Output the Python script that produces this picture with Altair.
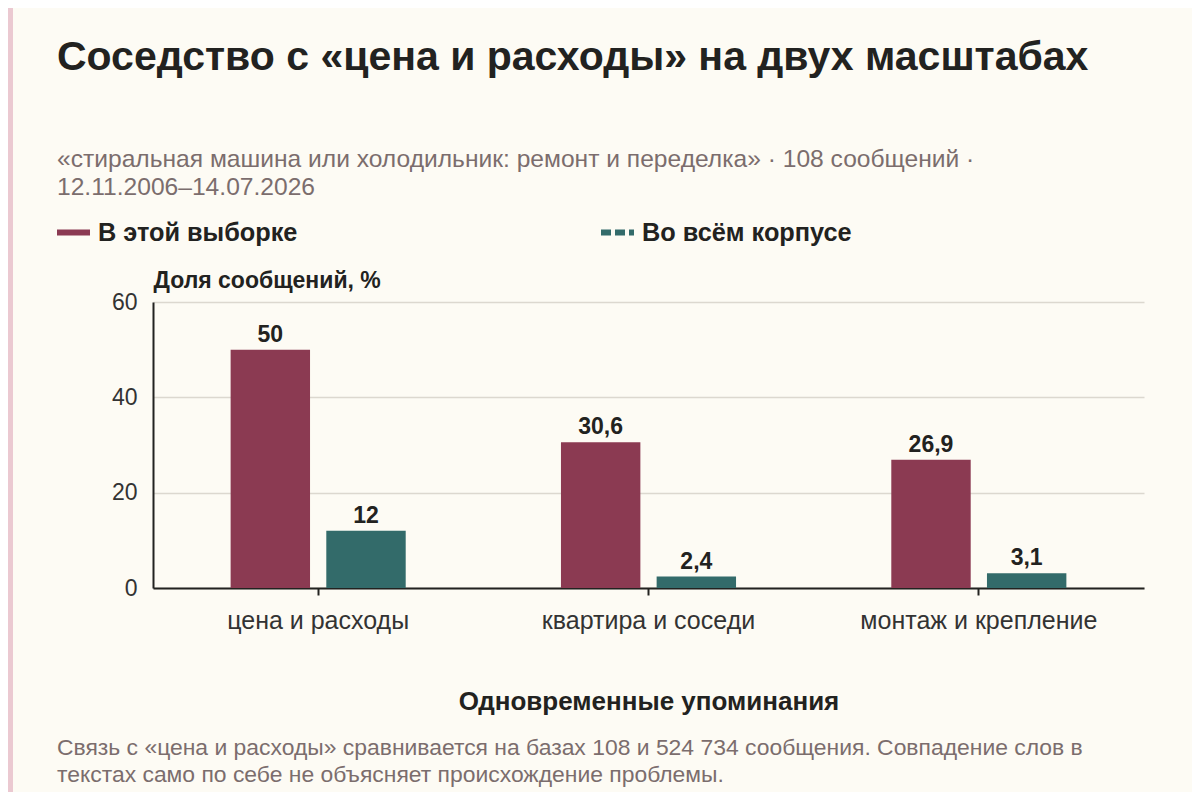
import altair as alt
import pandas as pd

categories = ["цена и расходы", "квартира и соседи", "монтаж и крепление"]
series = ["В этой выборке", "Во всём корпусе"]
sample_values = [50, 30.6, 26.9]
corpus_values = [12, 2.4, 3.1]
y_ticks = [0, 20, 40, 60]
colors = ["#8b3a52", "#336b6a"]

title_text = "Соседство с «цена и расходы» на двух масштабах"
subtitle_lines = [
    "«стиральная машина или холодильник: ремонт и переделка» · 108 сообщений ·",
    "12.11.2006–14.07.2026",
]
footnote_lines = [
    "Связь с «цена и расходы» сравнивается на базах 108 и 524 734 сообщения. Совпадение слов в",
    "текстах само по себе не объясняет происхождение проблемы.",
]

rows = []
for s, vals in zip(series, [sample_values, corpus_values]):
    for c, v in zip(categories, vals):
        rows.append({"cat": c, "series": s, "value": v,
                     "label": f"{v:g}".replace(".", ",")})
df = pd.DataFrame(rows)

FONT = "Liberation Sans"
BG = "#fdfbf4"
DARK = "#222220"
MUTED = "#7b6d6d"

x_enc = alt.X(
    "cat:N", sort=categories,
    scale=alt.Scale(paddingInner=0.47, paddingOuter=0.235),
    axis=alt.Axis(
        title="Одновременные упоминания", labelAngle=0, labelFontSize=25,
        labelColor="#333333", labelPadding=13, labelLimit=400, tickSize=7,
        tickWidth=2, tickColor=DARK, domainColor=DARK, domainWidth=2,
        titleFontSize=26, titleFontWeight="bold", titleColor=DARK,
        titlePadding=55, labelFont=FONT, titleFont=FONT,
    ),
)
xo_enc = alt.XOffset("series:N", sort=series, scale=alt.Scale(paddingInner=0.17))
y_enc = alt.Y(
    "value:Q", scale=alt.Scale(domain=[0, 60]),
    axis=alt.Axis(
        values=y_ticks, title="Доля сообщений, %", titleAngle=0,
        titleAlign="left", titleBaseline="bottom", titleX=0, titleY=-10,
        titleFontSize=23, titleFontWeight="bold", titleColor=DARK,
        labelFontSize=23, labelColor="#333333", labelPadding=16,
        ticks=False, domainColor=DARK, domainWidth=2,
        gridColor="#dcd8cf", gridWidth=1.5, labelFont=FONT, titleFont=FONT,
    ),
)
color_scale = alt.Scale(domain=series, range=colors)

legend_props = dict(
    title=None, orient="none", legendX=-99, legendY=-89,
    direction="horizontal", symbolType="stroke", symbolSize=1089,
    symbolStrokeWidth=6, symbolOpacity=1, labelFontSize=25.3,
    labelFontWeight="bold", labelColor=DARK, labelFont=FONT,
    labelOffset=5, columnPadding=291, labelLimit=400,
)

base = alt.Chart(df)

bars = base.mark_bar().encode(
    x=x_enc, xOffset=xo_enc, y=y_enc,
    color=alt.Color("series:N", scale=color_scale, legend=alt.Legend(**legend_props)),
)

labels = base.mark_text(
    baseline="alphabetic", dy=-8, fontSize=23, fontWeight="bold", color=DARK, font=FONT
).encode(x=x_enc, xOffset=xo_enc, y=y_enc, text="label:N")

legend_src = base.mark_line(opacity=0).encode(
    x=x_enc, y=y_enc,
    color=alt.Color("series:N", scale=color_scale, legend=alt.Legend(**legend_props)),
    strokeDash=alt.StrokeDash(
        "series:N", scale=alt.Scale(domain=series, range=[[1, 0], [10, 4]]),
        legend=alt.Legend(**legend_props),
    ),
)

foot_df = pd.DataFrame({"text": ["\n".join(footnote_lines)]})
footnote = alt.Chart(foot_df).mark_text(
    align="left", baseline="alphabetic", fontSize=22.9, color=MUTED, font=FONT,
    lineBreak="\n", lineHeight=27,
).encode(x=alt.value(-96), y=alt.value(453), text="text:N")

strip_df = pd.DataFrame({"k": [1]})
strip = alt.Chart(strip_df).mark_rect(color="#ebc9d1").encode(
    x=alt.value(-145), x2=alt.value(-140), y=alt.value(-294), y2=alt.value(490)
)

chart = alt.layer(bars, labels, legend_src, footnote, strip).properties(
    width=991, height=286,
    background=BG,
    autosize=alt.AutoSizeParams(type="none"),
    padding={"left": 145, "top": 294, "right": 48, "bottom": 204},
    title=alt.TitleParams(
        text=title_text, subtitle=subtitle_lines, anchor="start", frame="group",
        dx=-96, fontSize=41, fontWeight="bold", color=DARK, font=FONT,
        subtitleFont=FONT, subtitleFontSize=24.6, subtitleColor=MUTED,
        subtitleLineHeight=28, subtitlePadding=69, offset=-193,
    ),
).configure_view(stroke=None)

chart.save("out.html", embed_options={"renderer": "svg", "actions": False})
